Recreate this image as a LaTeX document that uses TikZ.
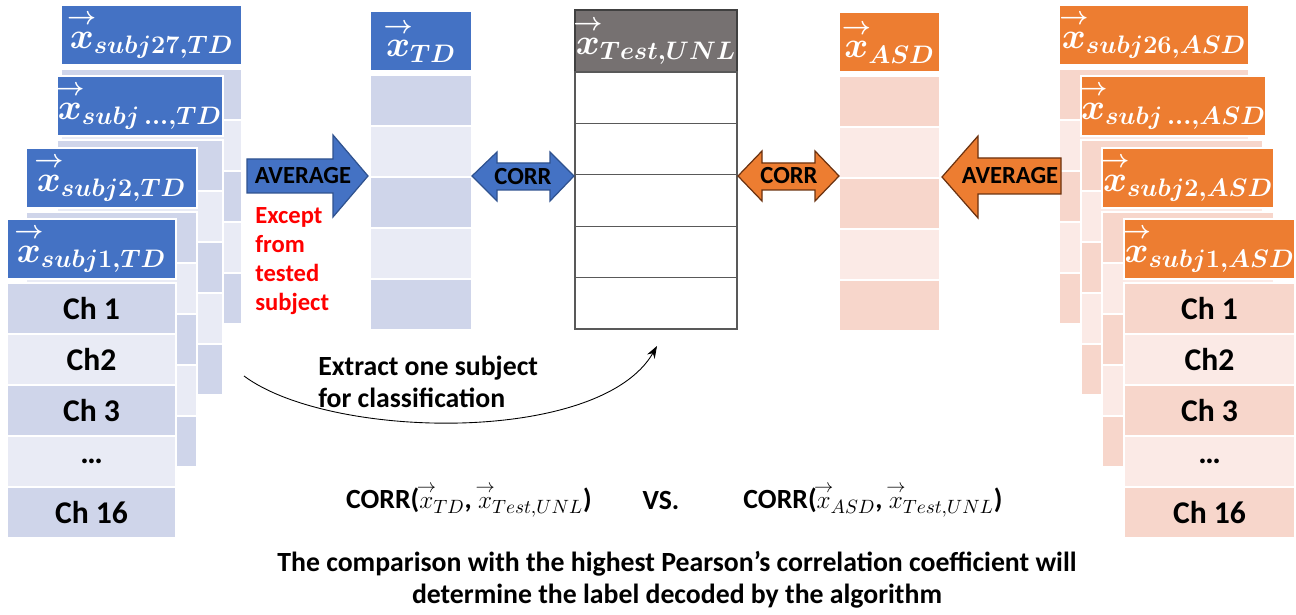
\documentclass[tikz,border=0pt]{standalone}
\usepackage{amsmath}
\usepackage{mathtools}
\usepackage{fontspec}
\setmainfont{Carlito}
\usetikzlibrary{arrows.meta}

\DeclareMathSizes{20}{20}{13.5}{10}
\newcommand{\xvec}{{\overset{\mathclap{\rightarrow}}{x}}}

\definecolor{tdblue}{HTML}{4472C4}
\definecolor{tddark}{HTML}{CFD5EA}
\definecolor{tdlight}{HTML}{E9EBF5}
\definecolor{tdedge}{HTML}{2F528F}
\definecolor{asdorange}{HTML}{ED7D31}
\definecolor{asddark}{HTML}{F7D6CB}
\definecolor{asdlight}{HTML}{FBEAE6}
\definecolor{asdedge}{HTML}{6B3210}
\definecolor{testgray}{HTML}{767171}

\tikzset{
  cardhead/.style={draw=white, line width=.8pt, text=white, minimum height=60*0.02cm,
    inner sep=0pt, outer sep=0pt, anchor=north west, font=\fontsize{20}{24}\selectfont\boldmath},
  cardrow/.style={draw=white, line width=.8pt, minimum height=51*0.02cm,
    inner sep=0pt, outer sep=0pt, anchor=north west},
  chlabel/.style={font=\fontsize{18}{20}\selectfont\bfseries, inner sep=0pt},
  bigarrow/.style={line width=.7pt, line join=miter},
  arrowtext/.style={font=\fontsize{14}{16}\selectfont\bfseries, inner sep=0pt},
  note/.style={font=\fontsize{14}{16.4}\selectfont\bfseries, align=left, inner sep=0pt},
  formula/.style={font=\fontsize{15.8}{18.1}\selectfont\bfseries, align=center, inner sep=0pt}
}

% one subject card: name, x, y, width, header colour, dark row, light row, subscript
\newcommand{\subjcard}[8]{%
  \node[cardhead, fill=#5, minimum width=#4*0.02cm] (#1h) at (#2,#3) {$\xvec_{#8}$};
  \foreach \r in {1,...,5}{%
    \pgfmathsetmacro{\rowy}{#3+64+(\r-1)*51}
    \ifodd\r\relax \def\rowc{#6}\else \def\rowc{#7}\fi
    \node[cardrow, fill=\rowc, minimum width=#4*0.02cm] (#1r\r) at (#2,\rowy) {};
  }%
}

\begin{document}
\begin{tikzpicture}[x=0.02cm,y=-0.02cm]
  \useasboundingbox (0,0) rectangle (1296,615);

  % TD subjects
  \subjcard{tdA}{61}{5}{181}{tdblue}{tddark}{tdlight}{subj27,TD}
  \subjcard{tdB}{57}{76}{166}{tdblue}{tddark}{tdlight}{subj\,\dots,TD}
  \subjcard{tdC}{26}{148}{171}{tdblue}{tddark}{tdlight}{subj2,TD}
  \subjcard{tdD}{7}{219}{169}{tdblue}{tddark}{tdlight}{subj1,TD}
  \foreach \r/\t in {1/Ch 1,2/Ch2,3/Ch 3,4/…,5/Ch 16}
    \node[chlabel] (tdch\r) at (tdDr\r) {\t};

  % ASD subjects
  \subjcard{asdA}{1059}{5}{190}{asdorange}{asddark}{asdlight}{subj26,ASD}
  \subjcard{asdB}{1081}{76}{182}{asdorange}{asddark}{asdlight}{subj\,\dots,ASD}
  \subjcard{asdC}{1102}{148}{172}{asdorange}{asddark}{asdlight}{subj2,ASD}
  \subjcard{asdD}{1124}{219}{171}{asdorange}{asddark}{asdlight}{subj1,ASD}
  \foreach \r/\t in {1/Ch 1,2/Ch2,3/Ch 3,4/…,5/Ch 16}
    \node[chlabel] (asdch\r) at (asdDr\r) {\t};

  % averages
  \subjcard{tdavg}{370}{11}{102}{tdblue}{tddark}{tdlight}{TD}
  \subjcard{asdavg}{839}{12}{101}{asdorange}{asddark}{asdlight}{ASD}

  % tested subject
  \node[cardhead, fill=testgray, draw=black!75, line width=.7pt, minimum width=162*0.02cm,
    minimum height=62*0.02cm] (testh) at (575,10) {$\xvec_{Test,UNL}$};
  \foreach \r in {1,...,5}{
    \pgfmathsetmacro{\rowy}{72+(\r-1)*51.4}
    \node[cardrow, fill=white, draw=black!65, line width=.7pt, minimum width=162*0.02cm,
      minimum height=51.4*0.02cm] (testr\r) at (575,\rowy) {};
  }

  % arrows
  \draw[bigarrow, fill=tdblue, draw=tdedge] (247,159) -- (333,159) -- (333,135) -- (368,176)
    -- (333,217) -- (333,193) -- (247,193) -- cycle;
  \node[arrowtext] (avgTD) at (303,176) {AVERAGE};
  \draw[bigarrow, fill=tdblue, draw=tdedge] (472,176) -- (497,152) -- (497,163) -- (550,163)
    -- (550,152) -- (574,176) -- (550,201) -- (550,190) -- (497,190) -- (497,201) -- cycle;
  \node[arrowtext] (corrTD) at (523,177) {CORR};
  \draw[bigarrow, fill=asdorange, draw=asdedge] (738,176) -- (762,151) -- (762,163) -- (815,163)
    -- (815,151) -- (839,176) -- (815,201) -- (815,190) -- (762,190) -- (762,201) -- cycle;
  \node[arrowtext] (corrASD) at (789,176) {CORR};
  \draw[bigarrow, fill=asdorange, draw=asdedge] (942,177) -- (978,136) -- (978,158) -- (1061,158)
    -- (1061,194) -- (978,194) -- (978,218) -- cycle;
  \node[arrowtext] (avgASD) at (1010,176) {AVERAGE};

  % notes
  \node[note, text=red, anchor=west] (except) at (255,261) {Except\\from\\tested\\subject};
  \node[note, font=\fontsize{15.8}{18.1}\selectfont\bfseries, anchor=west] (extract) at (318,382)
    {Extract one subject\\for classification};
  \coordinate (exS) at (244,376);
  \coordinate (exE) at (657,346);
  \draw[line width=.5pt, -{Stealth[length=7pt,width=5pt]}] (exS) .. controls (330,440) and (600,445) .. (exE);

  % comparison
  \node[formula] (cmpTD) at (469,500) {CORR($\xvec_{TD}$, $\xvec_{Test,UNL}$)};
  \node[formula] (vs) at (661,500) {VS.};
  \node[formula] (cmpASD) at (873,500) {CORR($\xvec_{ASD}$, $\xvec_{Test,UNL}$)};
  \node[formula] (concl) at (677,580) {The comparison with the highest Pearson’s correlation coefficient will\\determine the label decoded by the algorithm};
\end{tikzpicture}
\end{document}
